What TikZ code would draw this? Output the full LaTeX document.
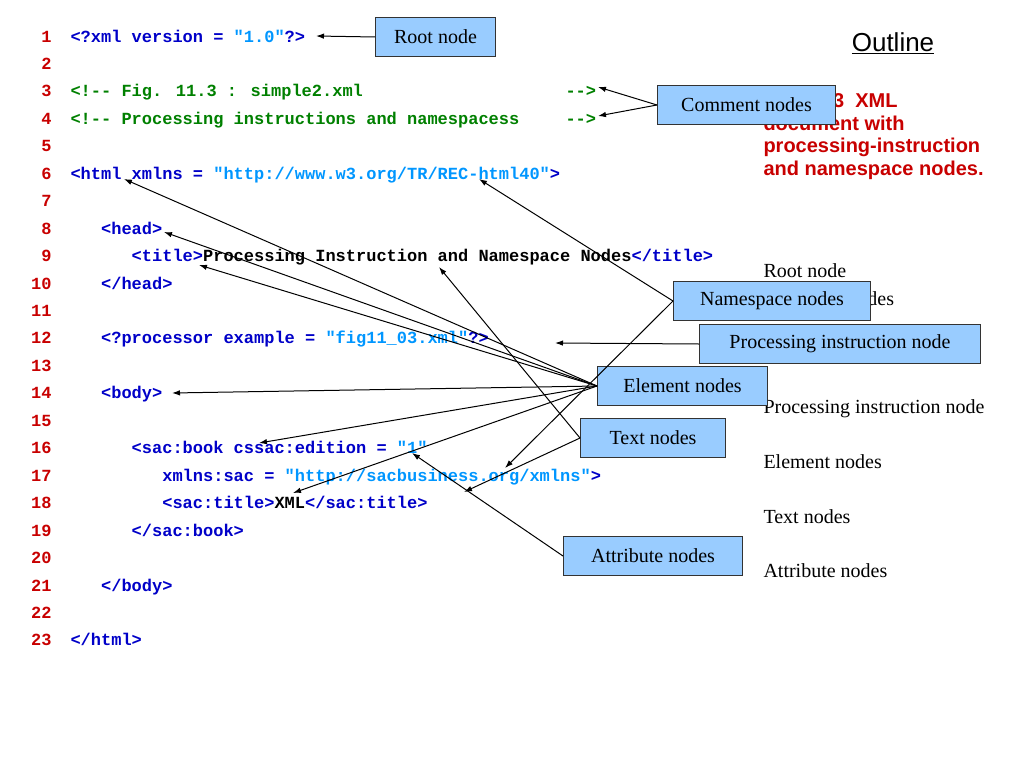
\documentclass[tikz,border=0pt]{standalone}
\usepackage{fontspec}
\usetikzlibrary{arrows.meta}
\setmainfont{Liberation Serif}
\newfontfamily\codefont{Liberation Mono}[BoldFont={Liberation Mono Bold}]
\newfontfamily\arialfont{Liberation Sans}
\definecolor{numred}{RGB}{200,0,0}
\definecolor{tagblue}{RGB}{0,0,200}
\definecolor{strblue}{RGB}{0,150,255}
\definecolor{cmgreen}{RGB}{0,128,0}
\definecolor{boxblue}{RGB}{153,204,255}
\newcommand{\tg}[1]{\textcolor{tagblue}{#1}}
\newcommand{\st}[1]{\textcolor{strblue}{#1}}
\newcommand{\cm}[1]{\textcolor{cmgreen}{#1}}
\begin{document}
\begin{tikzpicture}[x=1pt, y=-1pt, >={Latex[length=8pt,width=5.5pt]}, line width=1pt,
  lnum/.style={anchor=base east, text=numred, font=\codefont\bfseries\fontsize{17}{18}\selectfont, inner sep=0pt},
  code/.style={anchor=base west, font=\codefont\bfseries\fontsize{17}{18}\selectfont, inner sep=0pt},
  label box/.style={draw=black!80, fill=boxblue, font=\fontsize{20}{22}\selectfont, inner sep=0pt, minimum height=39pt, anchor=north west},
  side/.style={anchor=base west, font=\fontsize{20}{22}\selectfont, inner sep=0pt}]
\useasboundingbox (0,0) rectangle (1024,768);

% line numbers
\foreach \n in {1,...,23}
  \node [lnum] (num-\n) at (52,42+\n*27.45-27.45) {\n};

% code lines: line/indent/text
\foreach \n/\i/\t in {
  1/0/{\tg{<?xml version = }\st{"1.0"}\tg{?>}},
  3/0/{\cm{<!-{}- Fig. 11.3 : simple2.xml}},
  4/0/{\cm{<!-{}- Processing instructions and namespacess}},
  6/0/{\tg{<html xmlns = }\st{"http://www.w3.org/TR/REC-html40"}\tg{>}},
  8/1/{\tg{<head>}},
  9/2/{\tg{<title>}Processing Instruction and Namespace Nodes\tg{</title>}},
  10/1/{\tg{</head>}},
  12/1/{\tg{<?processor example = }\st{"fig11\_03.xml"}\tg{?>}},
  14/1/{\tg{<body>}},
  16/2/{\tg{<sac:book cssac:edition = }\st{"1"}},
  17/3/{\tg{xmlns:sac = }\st{"http://sacbusiness.org/xmlns"}\tg{>}},
  18/3/{\tg{<sac:title>}XML\tg{</sac:title>}},
  19/2/{\tg{</sac:book>}},
  21/1/{\tg{</body>}},
  23/0/{\tg{</html>}}}
  \node [code] (line-\n) at (70+\i*30.6,42+\n*27.45-27.45) {\t};
\foreach \n in {3,4}
  \node [code, text=cmgreen] (close-\n) at (565,42+\n*27.45-27.45) {-{}->};

% outline column
\node [font=\arialfont\fontsize{26}{28}\selectfont, anchor=base] (outline) at (893,52) {\underline{Outline}};
\node [anchor=north west, align=left, text=numred, inner sep=0pt,
  font=\arialfont\bfseries\fontsize{20}{22.5}\selectfont] (caption) at (763,93)
  {Fig. 11.3\ \ XML\\document with\\processing-instruction\\and namespace nodes.};
\foreach \t/\y in {Root node/277, Comment nodes/305, Namespace nodes/359,
  Processing instruction node/413, Element nodes/468, Text nodes/523, Attribute nodes/577}
  \node [side] at (763,\y) {\t};

% label boxes
\node [label box, minimum width=120pt] (root) at (375,17) {Root node};
\node [label box, minimum width=178pt] (comment) at (657,85) {Comment nodes};
\node [label box, minimum width=197pt] (namespace) at (673,281) {Namespace nodes};
\node [label box, minimum width=281pt] (pi) at (699,324) {Processing instruction node};
\node [label box, minimum width=170pt] (element) at (597,366) {Element nodes};
\node [label box, minimum width=145pt] (text) at (580,418) {Text nodes};
\node [label box, minimum width=179pt] (attribute) at (563,536) {Attribute nodes};

% target points
\coordinate (t-root) at (316,36);
\coordinate (t-c1) at (598,87);
\coordinate (t-c2) at (598,116);
\coordinate (t-html) at (124,179);
\coordinate (t-html40) at (479,179);
\coordinate (t-head) at (164,232);
\coordinate (t-title) at (199,265);
\coordinate (t-titletext) at (439,267);
\coordinate (t-pi) at (555,343);
\coordinate (t-body) at (172,393);
\coordinate (t-book) at (259,443);
\coordinate (t-edition) at (412,453);
\coordinate (t-xmlns) at (505,468);
\coordinate (t-bizz) at (464,492);
\coordinate (t-xml) at (293,493);

\draw [->] (root.west) -- (t-root);
\draw [->] (comment.west) -- (t-c1);
\draw [->] (comment.west) -- (t-c2);
\foreach \t in {html40, xmlns}
  \draw [->] (namespace.west) -- (t-\t);
\draw [->] (pi.west) -- (t-pi);
\foreach \t in {html, head, title, body, book, xml}
  \draw [->] (element.west) -- (t-\t);
\foreach \t in {titletext, bizz}
  \draw [->] (text.west) -- (t-\t);
\draw [->] (attribute.west) -- (t-edition);

\end{tikzpicture}
\end{document}
